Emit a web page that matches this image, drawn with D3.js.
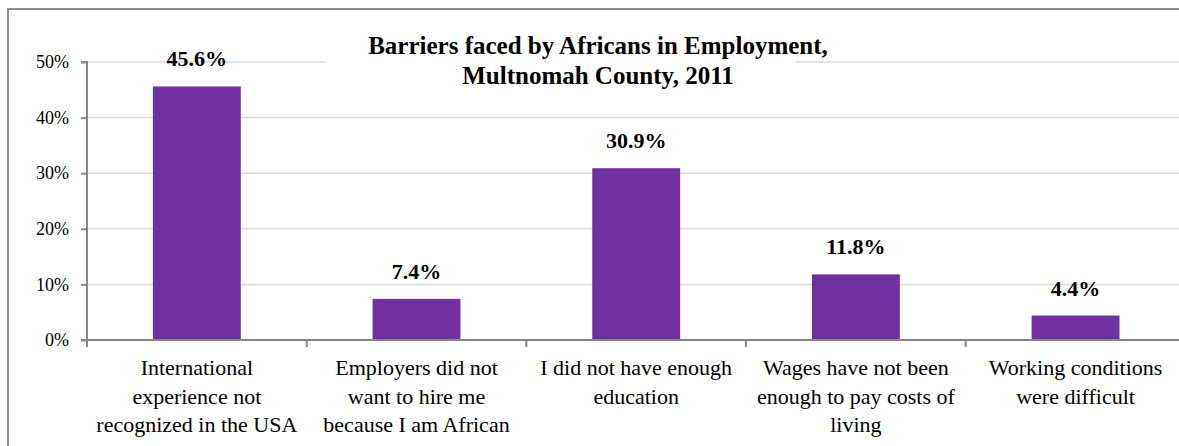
<!DOCTYPE html>
<html>
<head>
<meta charset="utf-8">
<script src="https://cdn.jsdelivr.net/npm/d3@7"></script>
<style>
  body { margin: 0; background: #fff; }
  svg text, svg tspan { font-family: 'Liberation Serif', serif !important; }
</style>
</head>
<body>
<svg id="Chart"></svg>
<script>
// data
const categories = [
  'International experience not recognized in the USA',
  'Employers did not want to hire me because I am African',
  'I did not have enough education',
  'Wages have not been enough to pay costs of living',
  'Working conditions were difficult'
];
const categoryLines = [
  ['International', 'experience not', 'recognized in the USA'],
  ['Employers did not', 'want to hire me', 'because I am African'],
  ['I did not have enough', 'education'],
  ['Wages have not been', 'enough to pay costs of', 'living'],
  ['Working conditions', 'were difficult']
];
const values = [45.6, 7.4, 30.9, 11.8, 4.4];
const yTicks = [0, 10, 20, 30, 40, 50];
const titleLines = ['Barriers faced by Africans in Employment,', 'Multnomah County, 2011'];

const fontName = "'Liberation Serif', serif";
const width = 1179, height = 446;
const margin = { top: 62, left: 87, bottom: 106 };
const plotRight = 1185.4;
const plotBottom = height - margin.bottom;

const svg = d3.select('#Chart')
  .attr('width', width)
  .attr('height', height);

// outer chart border
svg.append('rect')
  .attr('x', 8).attr('y', 9)
  .attr('width', 1200).attr('height', 500)
  .attr('fill', '#fff')
  .attr('stroke', '#8c8c8c')
  .attr('stroke-width', 2);

const x = d3.scaleBand()
  .domain(categories)
  .range([margin.left, plotRight])
  .padding(0);

const xBar = d3.scaleBand()
  .domain(categories)
  .range([margin.left, plotRight])
  .paddingInner(0.6)
  .paddingOuter(0.3);

const y = d3.scaleLinear()
  .domain([0, 50])
  .range([plotBottom, margin.top]);

// gridlines
svg.append('g')
  .selectAll('line')
  .data(yTicks.filter(d => d > 0))
  .enter().append('line')
  .attr('x1', margin.left).attr('x2', width)
  .attr('y1', d => y(d)).attr('y2', d => y(d))
  .attr('stroke', '#d9d9d9')
  .attr('stroke-width', 1.5);

// bars
svg.append('g')
  .selectAll('rect')
  .data(values)
  .enter().append('rect')
  .attr('x', (d, i) => xBar(categories[i]))
  .attr('width', xBar.bandwidth())
  .attr('y', d => y(d))
  .attr('height', d => y(0) - y(d))
  .attr('fill', '#7030a0');

// data labels
svg.append('g')
  .selectAll('text')
  .data(values)
  .enter().append('text')
  .attr('x', (d, i) => xBar(categories[i]) + xBar.bandwidth() / 2)
  .attr('y', d => y(d) - 20)
  .attr('text-anchor', 'middle')
  .style('font-family', fontName, 'important')
  .attr('font-weight', 'bold')
  .attr('font-size', 22)
  .attr('fill', '#000')
  .text(d => d.toFixed(1) + '%');

// y axis
const yAxis = svg.append('g')
  .attr('transform', 'translate(' + margin.left + ',0)')
  .call(d3.axisLeft(y).tickValues(yTicks).tickSize(6).tickPadding(12).tickFormat(d => d + '%'))
  .attr('font-family', fontName)
  .attr('font-size', 18);
yAxis.selectAll('path, line').attr('stroke', '#868686').attr('stroke-width', 2);
yAxis.select('.domain').attr('d', 'M-6,' + y(50) + 'H0V' + y(0) + 'H-6');
yAxis.selectAll('text').attr('fill', '#000').style('font-family', fontName, 'important');

// x axis
const xAxisG = svg.append('g')
  .attr('transform', 'translate(0,' + plotBottom + ')');
xAxisG.append('line')
  .attr('x1', margin.left).attr('x2', width)
  .attr('stroke', '#868686').attr('stroke-width', 2);
xAxisG.selectAll('.tick')
  .data(categories.concat(['end']))
  .enter().append('line')
  .attr('x1', (d, i) => i < categories.length ? x(d) : x(categories[i - 1]) + x.bandwidth())
  .attr('x2', (d, i) => i < categories.length ? x(d) : x(categories[i - 1]) + x.bandwidth())
  .attr('y1', 0).attr('y2', 7)
  .attr('stroke', '#868686').attr('stroke-width', 2);

// category labels
const labels = svg.append('g')
  .selectAll('text')
  .data(categories)
  .enter().append('text')
  .attr('text-anchor', 'middle')
  .attr('x', d => x(d) + x.bandwidth() / 2)
  .attr('y', plotBottom + 35)
  .style('font-family', fontName, 'important')
  .attr('font-size', 22)
  .attr('fill', '#000');
labels.selectAll('tspan')
  .data((d, i) => categoryLines[i])
  .enter().append('tspan')
  .attr('x', function () { return this.parentNode.getAttribute('x'); })
  .attr('dy', (d, i) => i === 0 ? 0 : 28.5)
  .text(d => d);

// title with white box behind
svg.append('rect')
  .attr('x', 325).attr('y', 26)
  .attr('width', 471).attr('height', 78)
  .attr('fill', '#fff');
svg.append('g')
  .selectAll('text')
  .data(titleLines)
  .enter().append('text')
  .attr('x', 598)
  .attr('y', (d, i) => 54 + i * 30)
  .attr('text-anchor', 'middle')
  .style('font-family', fontName, 'important')
  .attr('font-weight', 'bold')
  .attr('font-size', 25)
  .attr('fill', '#000')
  .text(d => d);
</script>
</body>
</html>
